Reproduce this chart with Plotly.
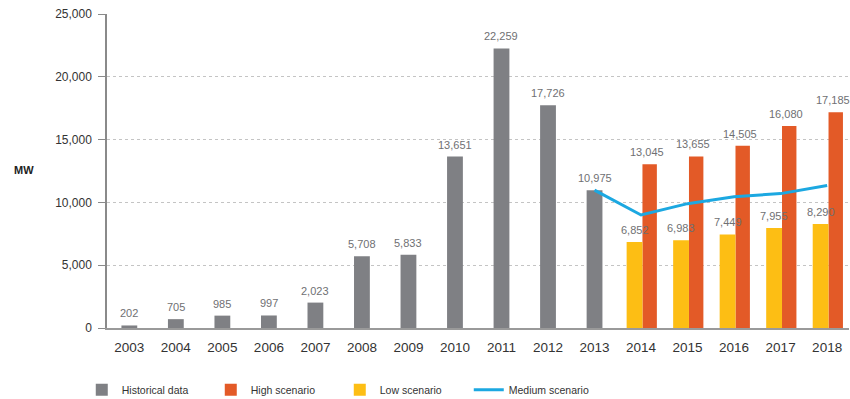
import plotly.graph_objects as go

# Annual installed capacity (MW)
hist_years = list(range(2003, 2014))
hist_values = [202, 705, 985, 997, 2023, 5708, 5833, 13651, 22259, 17726, 10975]

scen_years = [2014, 2015, 2016, 2017, 2018]
high_values = [13045, 13655, 14505, 16080, 17185]
low_values = [6852, 6983, 7449, 7955, 8290]

medium_years = [2013, 2014, 2015, 2016, 2017, 2018]
medium_values = [10975, 9000, 9900, 10450, 10700, 11350]

year_ticks = list(range(2003, 2019))
y_ticks = [0, 5000, 10000, 15000, 20000, 25000]

GRAY = "#7F8084"
ORANGE = "#E35A27"
YELLOW = "#FDBE14"
BLUE = "#1CA8E1"
LABEL = "#6F7073"
FONT = "Liberation Sans, Arial, sans-serif"

BW = 0.34

fig = go.Figure()
fig.add_trace(go.Bar(
    x=hist_years, y=hist_values, name="Historical data",
    marker=dict(color=GRAY, line=dict(width=0)),
    width=BW, offset=-BW / 2,
))
fig.add_trace(go.Bar(
    x=scen_years, y=high_values, name="High scenario",
    marker=dict(color=ORANGE, line=dict(width=0)),
    width=0.31, offset=0.03,
))
fig.add_trace(go.Bar(
    x=scen_years, y=low_values, name="Low scenario",
    marker=dict(color=YELLOW, line=dict(width=0)),
    width=0.34, offset=-0.31,
))
fig.add_trace(go.Scatter(
    x=medium_years, y=medium_values, name="Medium scenario",
    mode="lines", line=dict(color=BLUE, width=3),
))

# value labels above each bar
def add_labels(xs, ys, dx):
    for x, y in zip(xs, ys):
        fig.add_annotation(
            x=x + dx, y=y, text=f"{y:,}", showarrow=False,
            yanchor="bottom", yshift=4,
            font=dict(family=FONT, size=11, color=LABEL),
        )

add_labels(hist_years, hist_values, 0)
add_labels(scen_years, low_values, -0.14)
add_labels(scen_years, high_values, 0.12)

fig.add_annotation(
    x=-0.128, y=0.503, xref="paper", yref="paper", text="<b>MW</b>",
    showarrow=False, font=dict(family=FONT, size=11, color="#222"),
)

fig.update_layout(
    width=850, height=399,
    margin=dict(l=107, r=1, t=14, b=71, autoexpand=False),
    paper_bgcolor="white", plot_bgcolor="white",
    barmode="overlay",
    font=dict(family=FONT, color="#333"),
    showlegend=True,
    legend=dict(
        orientation="h", x=-0.034, xanchor="left", y=-0.197, yanchor="middle",
        font=dict(family=FONT, size=10.5, color="#333"),
        entrywidth=84, entrywidthmode="pixels",
        traceorder="normal", itemwidth=30,
    ),
    xaxis=dict(
        range=[2002.52, 2018.47],
        tickmode="array", tickvals=year_ticks,
        ticktext=[str(y) for y in year_ticks],
        tickfont=dict(family=FONT, size=13.5, color="#333"),
        showgrid=False, zeroline=False,
        showline=True, linecolor="#9a9a9a", linewidth=1.5,
        ticks="", ticklabelstandoff=6,
    ),
    yaxis=dict(
        range=[0, 25000],
        tickmode="array", tickvals=y_ticks,
        ticktext=[f"{v:,}" for v in y_ticks],
        tickfont=dict(family=FONT, size=12, color="#333"),
        showgrid=True, gridcolor="#c4c4c4", griddash="dot", gridwidth=1,
        zeroline=False,
        showline=True, linecolor="#8a8a8a", linewidth=1.5,
        ticks="outside", ticklen=7, tickcolor="#8a8a8a", tickwidth=1,
        ticklabelstandoff=4,
    ),
)

fig.write_html("out.html")
